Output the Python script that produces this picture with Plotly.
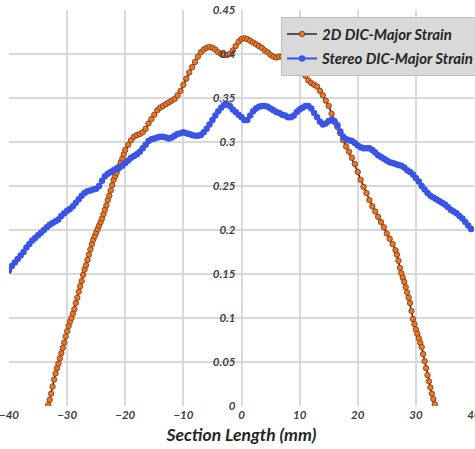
import plotly.graph_objects as go

# ---- 2D DIC - Major Strain ----
x_2d = [
    -33.25, -33.0, -32.75, -32.5, -32.25, -32.0, -31.75, -31.5, -31.25, -31.0,
    -30.75, -30.5, -30.25, -30.0, -29.75, -29.5, -29.25, -29.0, -28.75, -28.5,
    -28.25, -28.0, -27.75, -27.5, -27.25, -27.0, -26.75, -26.5, -26.25, -26.0,
    -25.75, -25.5, -25.25, -25.0, -24.75, -24.5, -24.25, -24.0, -23.75, -23.5,
    -23.25, -23.0, -22.75, -22.5, -22.25, -22.0, -21.75, -21.5, -21.25, -21.0,
    -20.75, -20.5, -20.25, -20.0,
    -19.5, -19.0, -18.5, -18.0, -17.5, -17.0, -16.5, -16.0, -15.5, -15.0,
    -14.5, -14.0, -13.5, -13.0, -12.5, -12.0, -11.5, -11.0, -10.5, -10.0,
    -9.5, -9.0, -8.5, -8.0, -7.5, -7.0, -6.5, -6.0, -5.5, -5.0,
    -4.5, -4.0, -3.5, -3.0, -2.5, -2.0, -1.5, -1.0, -0.5, 0.0,
    0.5, 1.0, 1.5, 2.0, 2.5, 3.0, 3.5, 4.0, 4.5, 5.0,
    5.5, 6.0, 6.5, 7.0, 7.5, 8.0, 8.5, 9.0, 9.5, 10.0,
    10.5, 11.0, 11.5, 12.0, 12.5, 13.0, 13.5, 14.0, 14.5, 15.0,
    15.5, 16.0, 16.5, 17.0, 17.5, 18.0, 18.5, 19.0, 19.5, 20.0,
    20.5, 21.0, 21.5, 22.0, 22.5, 23.0, 23.5, 24.0, 24.5, 25.0,
    25.5, 26.0, 26.5,
    26.75, 27.0, 27.25, 27.5, 27.75, 28.0, 28.25, 28.5, 28.75, 29.0,
    29.25, 29.5, 29.75, 30.0, 30.25, 30.5, 30.75, 31.0, 31.25, 31.5,
    31.75, 32.0, 32.25, 32.5, 32.75, 33.0, 33.25,
]
y_2d = [
    0.001, 0.007, 0.014, 0.022, 0.030, 0.037, 0.043, 0.048, 0.054, 0.060,
    0.066, 0.072, 0.079, 0.085, 0.091, 0.096, 0.100, 0.105, 0.110, 0.117,
    0.123, 0.130, 0.136, 0.142, 0.149, 0.155, 0.160, 0.166, 0.172, 0.178,
    0.184, 0.189, 0.193, 0.197, 0.201, 0.205, 0.209, 0.213, 0.218, 0.223,
    0.228, 0.234, 0.239, 0.245, 0.251, 0.257, 0.261, 0.265, 0.269, 0.273,
    0.277, 0.281, 0.286, 0.291,
    0.297, 0.302, 0.306, 0.308, 0.309, 0.311, 0.315, 0.321, 0.326, 0.331,
    0.336, 0.339, 0.341, 0.343, 0.345, 0.347, 0.349, 0.353, 0.358, 0.365,
    0.372, 0.379, 0.385, 0.391, 0.397, 0.402, 0.405, 0.407, 0.408, 0.407,
    0.405, 0.402, 0.400, 0.399, 0.399, 0.400, 0.404, 0.409, 0.414, 0.417,
    0.418, 0.417, 0.415, 0.413, 0.411, 0.409, 0.407, 0.404, 0.402, 0.399,
    0.397, 0.396, 0.397, 0.397, 0.397, 0.396, 0.395, 0.393, 0.390, 0.386,
    0.381, 0.375, 0.370, 0.367, 0.365, 0.363, 0.358, 0.353, 0.347, 0.341,
    0.332, 0.324, 0.317, 0.310, 0.302, 0.295, 0.289, 0.282, 0.275, 0.266,
    0.257, 0.249, 0.242, 0.234, 0.227, 0.221, 0.215, 0.209, 0.203, 0.196,
    0.190, 0.184, 0.177,
    0.172, 0.165, 0.157, 0.151, 0.146, 0.141, 0.135, 0.129, 0.123, 0.117,
    0.108, 0.099, 0.093, 0.087, 0.082, 0.077, 0.072, 0.067, 0.059, 0.051,
    0.043, 0.035, 0.028, 0.021, 0.014, 0.008, 0.002,
]

# ---- Stereo DIC - Major Strain ----
x_st = [
    -40.0, -39.5, -39.0, -38.5, -38.0, -37.5, -37.0, -36.5, -36.0, -35.5,
    -35.0, -34.5, -34.0, -33.5, -33.0, -32.5, -32.0, -31.5, -31.0, -30.5,
    -30.0, -29.5, -29.0, -28.5, -28.0, -27.5, -27.0, -26.5, -26.0, -25.5,
    -25.0, -24.5, -24.0, -23.5, -23.0, -22.5, -22.0, -21.5, -21.0, -20.5,
    -20.0, -19.5, -19.0, -18.5, -18.0, -17.5, -17.0, -16.5, -16.0, -15.5,
    -15.0, -14.5, -14.0, -13.5, -13.0, -12.5, -12.0, -11.5, -11.0, -10.5,
    -10.0, -9.5, -9.0, -8.5, -8.0, -7.5, -7.0, -6.5, -6.0, -5.5,
    -5.0, -4.5, -4.0, -3.5, -3.0, -2.5, -2.0, -1.5, -1.0, -0.5,
    0.0, 0.5, 1.0, 1.5, 2.0, 2.5, 3.0, 3.5, 4.0, 4.5,
    5.0, 5.5, 6.0, 6.5, 7.0, 7.5, 8.0, 8.5, 9.0, 9.5,
    10.0, 10.5, 11.0, 11.5, 12.0, 12.5, 13.0, 13.5, 14.0, 14.5,
    15.0, 15.5, 16.0, 16.5, 17.0, 17.5, 18.0, 18.5, 19.0, 19.5,
    20.0, 20.5, 21.0, 21.5, 22.0, 22.5, 23.0, 23.5, 24.0, 24.5,
    25.0, 25.5, 26.0, 26.5, 27.0, 27.5, 28.0, 28.5, 29.0, 29.5,
    30.0, 30.5, 31.0, 31.5, 32.0, 32.5, 33.0, 33.5, 34.0, 34.5,
    35.0, 35.5, 36.0, 36.5, 37.0, 37.5, 38.0, 38.5, 39.0, 39.5,
]
y_st = [
    0.154, 0.159, 0.163, 0.167, 0.171, 0.175, 0.180, 0.184, 0.188, 0.191,
    0.194, 0.197, 0.200, 0.203, 0.206, 0.208, 0.210, 0.212, 0.216, 0.219,
    0.222, 0.224, 0.227, 0.231, 0.235, 0.239, 0.242, 0.244, 0.245, 0.246,
    0.247, 0.250, 0.256, 0.261, 0.264, 0.266, 0.268, 0.270, 0.271, 0.273,
    0.276, 0.279, 0.282, 0.284, 0.286, 0.289, 0.293, 0.297, 0.301, 0.303,
    0.304, 0.305, 0.306, 0.306, 0.305, 0.304, 0.305, 0.307, 0.309, 0.310,
    0.311, 0.310, 0.309, 0.308, 0.307, 0.307, 0.308, 0.311, 0.315, 0.320,
    0.325, 0.330, 0.335, 0.339, 0.342, 0.343, 0.341, 0.337, 0.334, 0.331,
    0.328, 0.325, 0.325, 0.330, 0.335, 0.338, 0.340, 0.341, 0.341, 0.340,
    0.338, 0.336, 0.334, 0.333, 0.331, 0.330, 0.328, 0.328, 0.330, 0.334,
    0.337, 0.339, 0.341, 0.341, 0.338, 0.333, 0.328, 0.323, 0.320, 0.321,
    0.324, 0.325, 0.323, 0.319, 0.312, 0.306, 0.303, 0.302, 0.301, 0.299,
    0.296, 0.294, 0.293, 0.293, 0.293, 0.291, 0.288, 0.285, 0.283, 0.281,
    0.279, 0.277, 0.276, 0.275, 0.274, 0.273, 0.271, 0.268, 0.266, 0.263,
    0.259, 0.255, 0.250, 0.246, 0.242, 0.239, 0.237, 0.235, 0.233, 0.231,
    0.229, 0.226, 0.223, 0.221, 0.219, 0.216, 0.213, 0.209, 0.205, 0.201,
]

x_ticks = [-40, -30, -20, -10, 0, 10, 20, 30, 40]
y_ticks = [0, 0.05, 0.1, 0.15, 0.2, 0.25, 0.3, 0.35, 0.4, 0.45]

FONT = "Lato"
tick_font = dict(family=FONT, size=11.5, color="#404040", weight="bold", style="italic")

fig = go.Figure()
fig.add_trace(go.Scatter(
    x=x_2d, y=y_2d, mode="lines+markers", name="2D DIC-Major Strain",
    legendgroup="a",
    line=dict(color="#262626", width=1.5),
    marker=dict(color="#e8772a", size=5.5, line=dict(color="#7a3a0c", width=0.8)),
))
fig.add_trace(go.Scatter(
    x=x_st, y=y_st, mode="lines+markers", name="Stereo DIC-Major Strain",
    legendgroup="b",
    line=dict(color="#3a55e6", width=2),
    marker=dict(color="#3a55e6", size=6.5, line=dict(width=0)),
))

fig.update_layout(
    width=475, height=449,
    margin=dict(l=9, r=1, t=10, b=43, autoexpand=False),
    paper_bgcolor="white", plot_bgcolor="white",
    showlegend=True,
    legend=dict(
        x=0.585, y=0.983, xanchor="left", yanchor="top",
        bgcolor="#d9d9d9", bordercolor="#bfbfbf", borderwidth=1,
        font=dict(family=FONT, size=15, color="#262626", weight="bold", style="italic"),
        traceorder="grouped", tracegroupgap=2,
    ),
    xaxis=dict(
        range=[-40, 40], tickvals=x_ticks, showgrid=True, gridcolor="#d9d9d9",
        gridwidth=1.5, zeroline=False, showline=False, ticks="",
        tickfont=tick_font, ticklabeloverflow="allow",
        title=dict(text="Section Length (mm)", standoff=9,
                   font=dict(family=FONT, size=17.5, color="#262626", weight="bold", style="italic")),
    ),
    yaxis=dict(
        range=[0, 0.45], tickvals=y_ticks, showgrid=True, gridcolor="#d9d9d9",
        gridwidth=1.5, zeroline=False, showline=False, ticks="",
        anchor="free", position=0.5, side="left",
        tickfont=tick_font, ticklabelstandoff=6, ticklabeloverflow="allow",
    ),
)

fig.write_html("out.html")
